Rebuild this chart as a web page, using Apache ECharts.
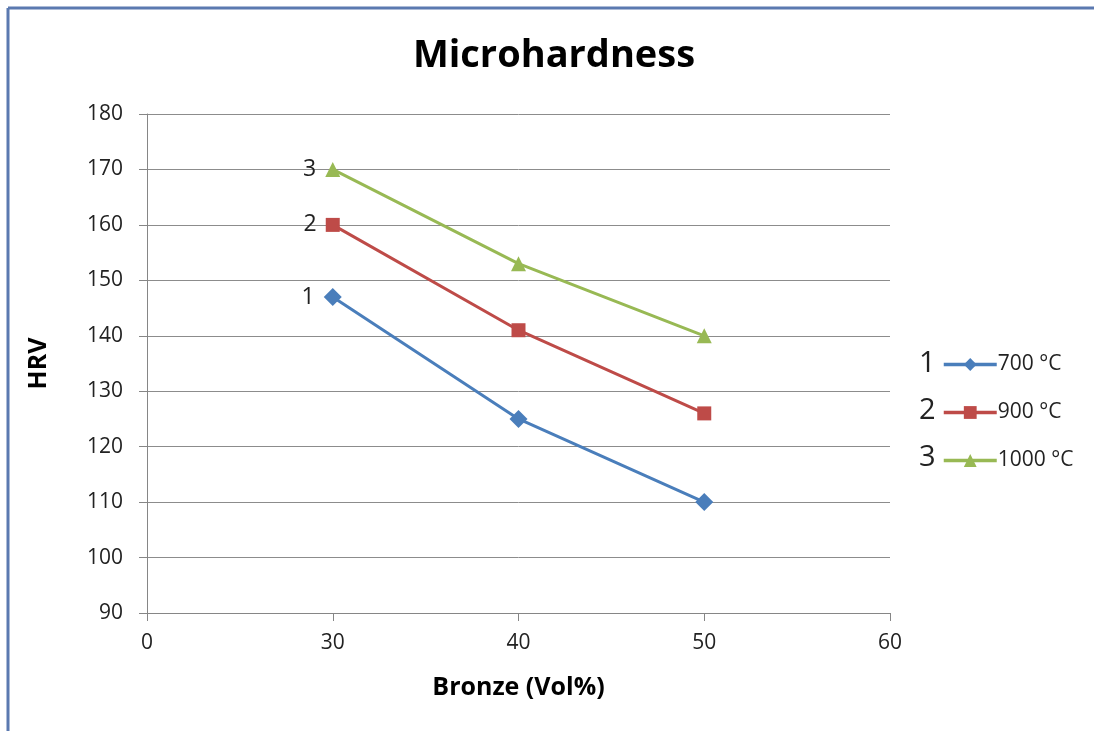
<!DOCTYPE html>
<html>
<head>
<meta charset="utf-8">
<script src="https://cdn.jsdelivr.net/npm/echarts@6/dist/echarts.min.js"></script>
<style>
  html, body { margin: 0; padding: 0; background: #fff; }
  #chart { width: 1094px; height: 731px; }
</style>
</head>
<body>
<div id="chart"></div>
<script>
// Bronze content categories (0 and 60 are axis ends only)
const categories = ['0', '30', '40', '50', '60'];
// Microhardness (HRV) per sintering temperature
const hrv700 = [null, 147, 125, 110, null];
const hrv900 = [null, 160, 141, 126, null];
const hrv1000 = [null, 170, 153, 140, null];
const seriesNames = ['700 °C', '900 °C', '1000 °C'];
const seriesTags = ['1', '2', '3'];
const yTicks = { min: 90, max: 180, step: 10 };

const FONT = '"Open Sans", "Noto Sans", sans-serif';
const colors = ['#4a7ebb', '#be4b48', '#98b954'];
const symbols = ['diamond', 'rect', 'triangle'];
const symbolSizes = [18, 14, 15];
const values = [hrv700, hrv900, hrv1000];

const chart = echarts.init(document.getElementById('chart'));

const series = values.map((vals, i) => ({
  name: seriesNames[i],
  type: 'line',
  data: vals,
  connectNulls: false,
  symbol: symbols[i],
  symbolSize: symbolSizes[i],
  showAllSymbol: true,
  lineStyle: { color: colors[i], width: 3 },
  itemStyle: { color: colors[i] },
  label: {
    show: true,
    position: 'left',
    distance: 9,
    fontFamily: FONT,
    fontSize: 23,
    color: '#222',
    formatter: p => (p.dataIndex === 1 ? seriesTags[i] : '')
  },
  emphasis: { disabled: true },
  z: 3 + i
}));

chart.setOption({
  backgroundColor: '#fff',
  animation: false,
  title: {
    text: 'Microhardness',
    left: 549,
    top: 32,
    textAlign: 'center',
    textStyle: { fontFamily: FONT, fontSize: 38, fontWeight: 'bold', color: '#000' }
  },
  grid: { left: 147, top: 114, right: 204, bottom: 118, containLabel: false },
  xAxis: {
    type: 'category',
    data: categories,
    boundaryGap: false,
    name: 'Bronze (Vol%)',
    nameLocation: 'middle',
    nameGap: 62,
    nameTextStyle: { fontFamily: FONT, fontSize: 25, fontWeight: 'bold', color: '#000' },
    axisLine: { lineStyle: { color: '#868686', width: 1 } },
    axisTick: { show: true, alignWithLabel: true, length: 8, lineStyle: { color: '#868686' } },
    axisLabel: { fontFamily: FONT, fontSize: 21, color: '#222', margin: 20 },
    splitLine: { show: false }
  },
  yAxis: {
    type: 'value',
    min: yTicks.min,
    max: yTicks.max,
    interval: yTicks.step,
    name: 'HRV',
    nameLocation: 'middle',
    nameGap: 96,
    nameRotate: 90,
    nameTextStyle: { fontFamily: FONT, fontSize: 25, fontWeight: 'bold', color: '#000' },
    axisLine: { show: true, lineStyle: { color: '#868686', width: 1 } },
    axisTick: { show: true, length: 8, lineStyle: { color: '#868686' } },
    axisLabel: { fontFamily: FONT, fontSize: 21, color: '#222', margin: 24 },
    splitLine: { show: true, lineStyle: { color: '#8c8c8c', width: 1 } }
  },
  legend: {
    orient: 'vertical',
    left: 942,
    top: 354,
    padding: 0,
    itemWidth: 53,
    itemHeight: 16,
    itemGap: 27,
    selectedMode: false,
    data: seriesNames,
    lineStyle: { width: 3.5 },
    textStyle: { fontFamily: FONT, fontSize: 21, color: '#222', lineHeight: 16, padding: [0, 0, 0, -4] }
  },
  graphic: [
    // window-style frame on the top and left edges
    { type: 'line', shape: { x1: 8, y1: 8, x2: 1094, y2: 8 }, style: { stroke: '#5b79b0', lineWidth: 3 } },
    { type: 'line', shape: { x1: 8, y1: 8, x2: 8, y2: 731 }, style: { stroke: '#5b79b0', lineWidth: 3 } },
    ...seriesTags.map((t, i) => ({
      type: 'text',
      x: 919,
      y: 364 + i * 47,
      style: { text: t, fontFamily: FONT, fontSize: 29, fill: '#222', verticalAlign: 'middle' }
    }))
  ],
  series
});
</script>
</body>
</html>
